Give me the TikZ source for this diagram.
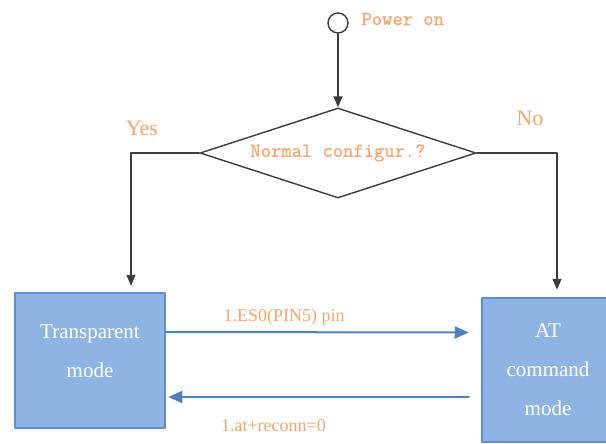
\documentclass[tikz,border=0pt]{standalone}
\usepackage{fontspec}
\setmainfont{Liberation Serif}
\newfontfamily\cfgmono[FakeBold=0.8]{Latin Modern Mono}
\usetikzlibrary{arrows.meta,shapes.geometric}

\definecolor{lblorange}{RGB}{242,165,110}
\definecolor{boxfill}{RGB}{141,180,226}
\definecolor{boxline}{RGB}{95,142,210}
\definecolor{linkblue}{RGB}{79,129,189}
\definecolor{flowgray}{RGB}{60,60,60}

\tikzset{
  modebox/.style={draw=boxline,fill=boxfill,line width=2.5pt,text=white,align=center,
    inner sep=0pt,font=\fontsize{21}{39}\selectfont},
  monolbl/.style={text=lblorange,font=\cfgmono\fontsize{20}{22}\selectfont},
  seriflbl/.style={text=lblorange,font=\fontsize{18}{20}\selectfont},
  answer/.style={text=lblorange,font=\fontsize{22}{24}\selectfont},
  flow/.style={draw=flowgray,line width=1.4pt},
  link/.style={draw=linkblue,line width=2pt,-{Triangle[length=14pt,width=12pt]}},
}

\begin{document}
\begin{tikzpicture}[line cap=round,line join=round,>={Triangle[length=11pt,width=9pt]},x=1pt,y=-1pt]
\useasboundingbox (0,0) rectangle (606,444);
% start
\node[circle,flow,minimum size=20pt,inner sep=0pt] (pwr) at (338,23) {};
\node[monolbl,anchor=west] (pwrlbl) at (358,19) {Power on};
% decision
\node[diamond,flow,aspect=3.07,minimum width=276pt,minimum height=90pt,inner sep=0pt,monolbl] (cfg) at (338,153) {Normal configur.?};
\node[answer] (yes) at (142,128) {Yes};
\node[answer] (no) at (530,118) {No};
% modes
\node[modebox,minimum width=150pt,minimum height=135pt,text depth=18pt] (tm) at (90,360.5) {Transparent\\mode};
\node[modebox,minimum width=132pt,minimum height=144pt] (at) at (548,370) {AT\\command\\mode};
% connectors
\draw[flow,->] (pwr) -- (cfg);
\draw[flow,->] (cfg.west) -| ([xshift=41pt,yshift=6pt]tm.north);
\draw[flow,->] (cfg.east) -| ([xshift=9pt,yshift=7pt]at.north);
\draw[link] ([yshift=28.5pt]tm.east) -- ([xshift=-12pt,yshift=37.5pt]at.west)
  node[seriflbl,pos=0.39,above=3pt] (esl) {1.ES0(PIN5) pin};
\draw[link] ([xshift=-12pt,yshift=-27pt]at.west) -- ([xshift=2pt,yshift=-36.5pt]tm.east)
  node[seriflbl,pos=0.65,below=18pt] (rcl) {1.at+reconn=0};
\end{tikzpicture}
\end{document}
